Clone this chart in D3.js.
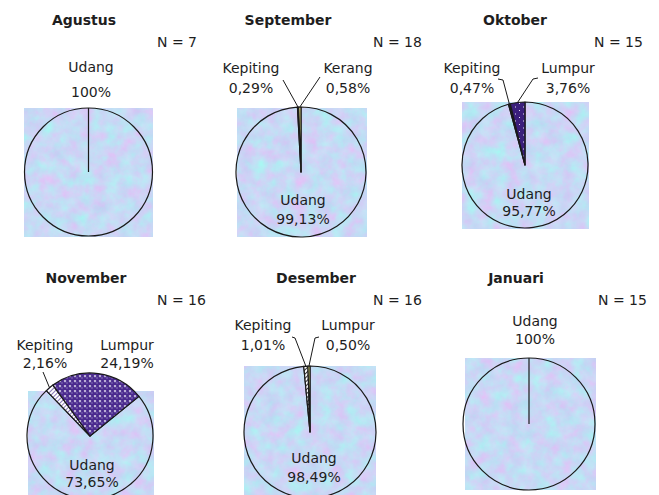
<!DOCTYPE html>
<html>
<head>
<meta charset="utf-8">
<script src="https://cdn.jsdelivr.net/npm/d3@7"></script>
<style>
  html, body { margin: 0; padding: 0; background: #fff; }
  svg { display: block; }
  text { font-family: "DejaVu Sans", Verdana, sans-serif; fill: #1e1e1e; }
</style>
</head>
<body>
<svg id="chart" width="659" height="495"></svg>
<script>
// Monthly diet composition (% of total), one pie per month
const months = ["Agustus", "September", "Oktober", "November", "Desember", "Januari"];
const sampleSizes = [7, 18, 15, 16, 16, 15];
const udang = [100, 99.13, 95.77, 73.65, 98.49, 100];
const kepiting = [0, 0.29, 0.47, 2.16, 1.01, 0];
const kerang = [0, 0.58, 0, 0, 0, 0];
const lumpur = [0, 0, 3.76, 24.19, 0.50, 0];
const seriesNames = ["Udang", "Kepiting", "Kerang", "Lumpur"];
const seriesValues = [udang, kepiting, kerang, lumpur];

// Placement of each small pie panel
const panels = [
  { title: [84, 25], n: [157, 47], c: [88.5, 172], r: 64, sq: [24, 108, 153, 237], rot: 0,
    labels: { Udang: { x: 91, y: 72, dy: 25 } } },
  { title: [288, 25], n: [373, 47], c: [301, 172], r: 65, sq: [237, 108, 367, 237], rot: 0,
    labels: { Udang: { x: 303, y: 205, dy: 19 },
              Kepiting: { x: 251, y: 73, dy: 20, line: [[283, 80]] },
              Kerang: { x: 348, y: 73, dy: 20, line: [[320, 77]] } } },
  { title: [515, 25], n: [594, 47], c: [525, 165], r: 63, sq: [462, 102, 589, 229], rot: 0,
    labels: { Udang: { x: 529, y: 199, dy: 17 },
              Kepiting: { x: 472, y: 73, dy: 20, line: [[498, 79], [503, 80]] },
              Lumpur: { x: 568, y: 73, dy: 20, line: [[538, 78], [533, 79]] } } },
  { title: [86, 283], n: [157, 305], c: [90, 436], r: 63, sq: [28, 391, 154, 500], rot: 51,
    labels: { Udang: { x: 92, y: 470, dy: 17 },
              Kepiting: { x: 45, y: 350, dy: 18, line: [[43, 372]] },
              Lumpur: { x: 127, y: 350, dy: 18 } } },
  { title: [316, 283], n: [373, 305], c: [310, 432], r: 66, sq: [244, 366, 376, 500], rot: 0,
    labels: { Udang: { x: 314, y: 463, dy: 19 },
              Kepiting: { x: 263, y: 330, dy: 20, line: [[292, 337], [295, 338]] },
              Lumpur: { x: 348, y: 330, dy: 20, line: [[319, 337], [315, 338]] } } },
  { title: [516, 283], n: [598, 305], c: [529, 424], r: 66, sq: [465, 358, 596, 490], rot: 0,
    labels: { Udang: { x: 535, y: 326, dy: 18 } } }
];

// Slice fills per panel (Udang stays transparent over the textured plot area)
const sliceFills = [
  {},
  { Kepiting: "#202020", Kerang: "#e6e08a" },
  { Kepiting: "#202020", Lumpur: "url(#dotsPurple)" },
  { Kepiting: "url(#stripeLav)", Lumpur: "url(#circlesPurple)" },
  { Kepiting: "url(#hatchBlack)", Lumpur: "#dfe27a" },
  {}
];

const svg = d3.select("#chart");
const defs = svg.append("defs");

// Pastel "bouquet" texture for the plot areas
const tex = defs.append("filter").attr("id", "bouquet")
  .attr("x", 0).attr("y", 0).attr("width", 1).attr("height", 1)
  .attr("color-interpolation-filters", "sRGB");
tex.append("feTurbulence").attr("type", "fractalNoise")
  .attr("baseFrequency", 0.075).attr("numOctaves", 5).attr("seed", 7).attr("result", "noise");
tex.append("feColorMatrix").attr("in", "noise").attr("type", "matrix")
  .attr("values", [
    0.22, -0.14, 0, 0, 0.74,
   -0.12,  0.20, 0, 0, 0.81,
    0.03,  0.00, 0, 0, 0.945,
    0, 0, 0, 0, 1
  ].join(" "));

// Fill patterns for the minor slices
const p1 = defs.append("pattern").attr("id", "dotsPurple").attr("patternUnits", "userSpaceOnUse")
  .attr("width", 8).attr("height", 7);
p1.append("rect").attr("width", 8).attr("height", 7).attr("fill", "#3b1f7c");
p1.append("rect").attr("x", 2).attr("y", 1).attr("width", 1).attr("height", 1).attr("fill", "#e8e4f4");
p1.append("rect").attr("x", 6).attr("y", 4.5).attr("width", 1).attr("height", 1).attr("fill", "#e8e4f4");

const p2 = defs.append("pattern").attr("id", "circlesPurple").attr("patternUnits", "userSpaceOnUse")
  .attr("width", 5).attr("height", 5);
p2.append("rect").attr("width", 5).attr("height", 5).attr("fill", "#f4f2fa");
p2.append("circle").attr("cx", 2.5).attr("cy", 2.5).attr("r", 2.6).attr("fill", "#4a2a8e");
p2.append("rect").attr("x", 1.5).attr("y", 1.5).attr("width", 1).attr("height", 1).attr("fill", "#bfb4e0");

const p3 = defs.append("pattern").attr("id", "stripeLav").attr("patternUnits", "userSpaceOnUse")
  .attr("width", 3).attr("height", 3).attr("patternTransform", "rotate(45)");
p3.append("rect").attr("width", 3).attr("height", 3).attr("fill", "#ffffff");
p3.append("rect").attr("width", 1).attr("height", 3).attr("fill", "#8a7ab8");

const p4 = defs.append("pattern").attr("id", "hatchBlack").attr("patternUnits", "userSpaceOnUse")
  .attr("width", 3).attr("height", 3).attr("patternTransform", "rotate(45)");
p4.append("rect").attr("width", 3).attr("height", 3).attr("fill", "#ffffff");
p4.append("rect").attr("width", 1).attr("height", 3).attr("fill", "#333333");

const fmtPct = v => (v === 100 ? "100" : v.toFixed(2).replace(".", ",")) + "%";
const deg = Math.PI / 180;

months.forEach((month, i) => {
  const P = panels[i];
  const g = svg.append("g");

  // plot area texture
  g.append("rect")
    .attr("x", P.sq[0]).attr("y", P.sq[1])
    .attr("width", P.sq[2] - P.sq[0]).attr("height", P.sq[3] - P.sq[1])
    .attr("filter", "url(#bouquet)");

  // title and sample size
  g.append("text").attr("x", P.title[0]).attr("y", P.title[1])
    .attr("text-anchor", "middle").attr("font-weight", "bold").attr("font-size", 14)
    .text(month);
  g.append("text").attr("x", P.n[0]).attr("y", P.n[1])
    .attr("font-size", 14).text("N = " + sampleSizes[i]);

  const data = seriesNames
    .map((name, k) => ({ name, value: seriesValues[k][i] }))
    .filter(d => d.value > 0);

  const pie = d3.pie().sort(null).value(d => d.value)
    .startAngle(P.rot * deg).endAngle(P.rot * deg + 2 * Math.PI);
  const arcs = pie(data);
  const arc = d3.arc().innerRadius(0).outerRadius(P.r);

  const pg = g.append("g").attr("transform", `translate(${P.c[0]},${P.c[1]})`);
  pg.selectAll("path.slice").data(arcs).join("path")
    .attr("class", "slice")
    .attr("d", arc)
    .attr("fill", d => (sliceFills[i][d.data.name] || "none"))
    .attr("stroke", "#1a1a1a").attr("stroke-width", 1.2)
    .attr("stroke-linejoin", "round");

  // single full slice: draw its seam radius
  if (arcs.length === 1) {
    const a = arcs[0].startAngle;
    pg.append("line").attr("x1", 0).attr("y1", 0)
      .attr("x2", P.r * Math.sin(a)).attr("y2", -P.r * Math.cos(a))
      .attr("stroke", "#1a1a1a").attr("stroke-width", 1.2);
  }

  // labels and leader lines
  arcs.forEach(d => {
    const L = P.labels[d.data.name];
    if (!L) return;
    const t = g.append("text").attr("text-anchor", "middle").attr("font-size", 14);
    t.append("tspan").attr("x", L.x).attr("y", L.y).text(d.data.name);
    t.append("tspan").attr("x", L.x).attr("y", L.y + L.dy).text(fmtPct(d.data.value));
    if (L.line) {
      const mid = (d.startAngle + d.endAngle) / 2;
      const end = [P.c[0] + P.r * Math.sin(mid), P.c[1] - P.r * Math.cos(mid)];
      g.append("path")
        .attr("d", d3.line()(L.line.concat([end])))
        .attr("fill", "none").attr("stroke", "#1a1a1a").attr("stroke-width", 1);
    }
  });
});
</script>
</body>
</html>
